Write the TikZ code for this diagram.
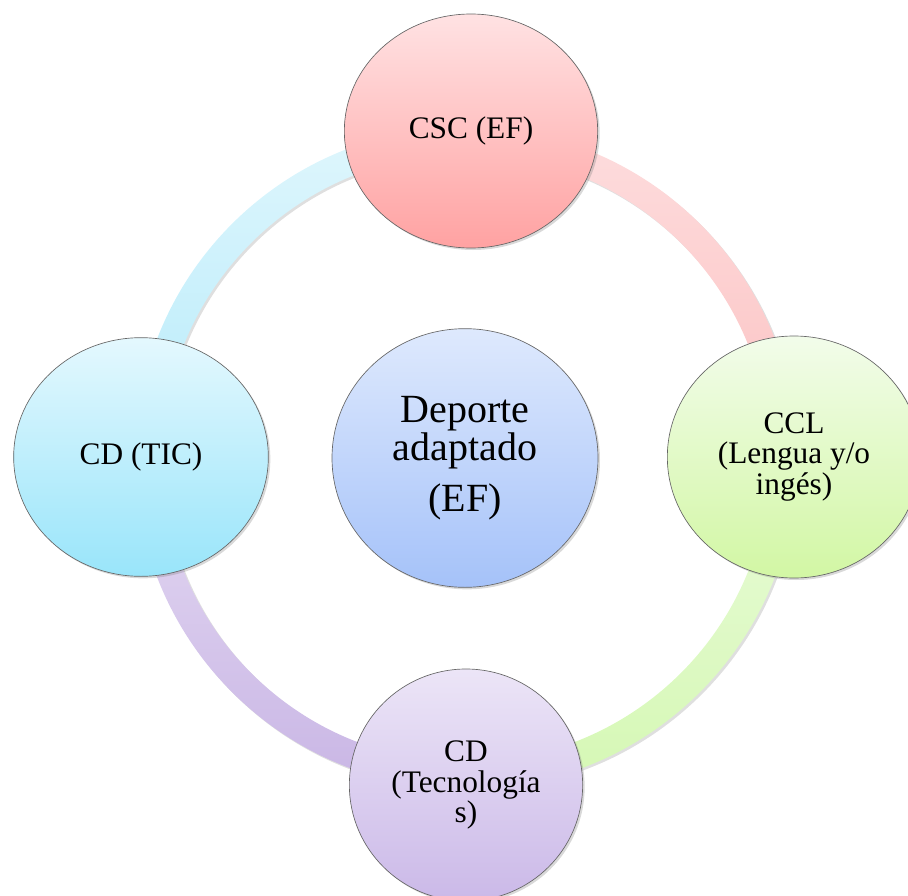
\documentclass[tikz,border=0pt]{standalone}
\usepackage{fontspec}
\setmainfont{Liberation Serif}
\usetikzlibrary{shapes.geometric,shadows}

% circle colours (top / bottom of the shading)
\definecolor{cscTop}{HTML}{FFE2E3}
\definecolor{cscBot}{HTML}{FFA2A2}
\definecolor{cclTop}{HTML}{F2FCEA}
\definecolor{cclBot}{HTML}{D2F7A4}
\definecolor{tecTop}{HTML}{ECE5F7}
\definecolor{tecBot}{HTML}{CBB9E8}
\definecolor{ticTop}{HTML}{E4F8FE}
\definecolor{ticBot}{HTML}{99E5FA}
\definecolor{depTop}{HTML}{DEE9FD}
\definecolor{depBot}{HTML}{A5C2F9}
% ring colours
\definecolor{tlTop}{HTML}{DFF6FC}
\definecolor{tlBot}{HTML}{B6EBFB}
\definecolor{trTop}{HTML}{FDDDDE}
\definecolor{trBot}{HTML}{FCC1C1}
\definecolor{brTop}{HTML}{E9FBD9}
\definecolor{brBot}{HTML}{D5F8B4}
\definecolor{blTop}{HTML}{E4D9F2}
\definecolor{blBot}{HTML}{C9B6E5}

\begin{document}
\begin{tikzpicture}[x=0.75pt, y=0.75pt,
    bubble/.style={ellipse, draw=black!60, line width=0.5pt, align=center, inner sep=0pt,
        font=\fontsize{23.5}{23}\selectfont,
        drop shadow={shadow xshift=1.5pt, shadow yshift=-1.5pt, opacity=0.3}},
    ringpart/.style={drop shadow={shadow xshift=1.5pt, shadow yshift=-1.5pt, opacity=0.25}}]
    \useasboundingbox (0,0) rectangle (908,-896);
    \coordinate (ring) at (466,-458);

    % ring behind the circles
    \foreach \a/\ct/\cb in {0/trTop/trBot, 90/tlTop/tlBot, 180/blTop/blBot, 270/brTop/brBot}
        \shade[ringpart, top color=\ct, bottom color=\cb] (ring) ++(\a:331)
            arc[start angle=\a, delta angle=90, radius=331] -- ++(\a+270:27)
            arc[start angle=\a+90, delta angle=-90, radius=304] -- cycle;

    \node[bubble, top color=cscTop, bottom color=cscBot, minimum width=190pt, minimum height=175.5pt] (csc) at (471,-131) {CSC (EF)};
    \node[bubble, top color=cclTop, bottom color=cclBot, minimum width=190pt, minimum height=181.5pt] (ccl) at (794,-457) {CCL\\(Lengua y/o\\ingés)};
    \node[bubble, top color=tecTop, bottom color=tecBot, minimum width=175pt, minimum height=174pt] (tec) at (466,-785) {CD\\(Tecnología\\s)};
    \node[bubble, top color=ticTop, bottom color=ticBot, minimum width=191pt, minimum height=179pt] (tic) at (141,-457) {CD (TIC)};

    \node[bubble, top color=depTop, bottom color=depBot, minimum width=199.5pt, minimum height=194pt,
        font=\fontsize{30}{29}\selectfont] (dep) at (465,-458) {Deporte\\adaptado\\[9pt](EF)};
\end{tikzpicture}
\end{document}
